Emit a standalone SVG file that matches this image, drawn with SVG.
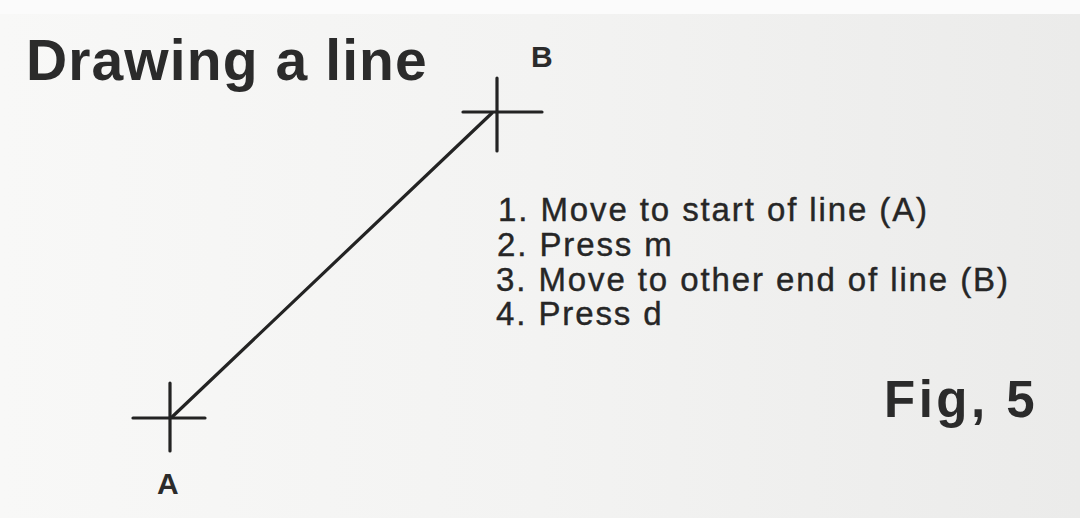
<svg xmlns="http://www.w3.org/2000/svg" width="1080" height="518" viewBox="0 0 1080 518">
  <defs>
    <linearGradient id="paper" x1="0" y1="0" x2="1" y2="0">
      <stop offset="0" stop-color="#f8f8f7"/>
      <stop offset="0.5" stop-color="#f3f3f2"/>
      <stop offset="1" stop-color="#ebebea"/>
    </linearGradient>
    <style>
      .ink { stroke: #232323; stroke-width: 3.2; stroke-linecap: round; fill: none; }
      .head { font-family: "Liberation Sans", Arial, sans-serif; font-weight: bold; fill: #2b2b2b; }
      .step { font-family: "Liberation Sans", Arial, sans-serif; font-size: 33px; letter-spacing: 1.9px; fill: #262626; stroke: #262626; stroke-width: 0.4px; }
      .pt { font-family: "Liberation Sans", Arial, sans-serif; font-weight: bold; font-size: 30px; fill: #2b2b2b; }
    </style>
  </defs>

  <!-- page -->
  <rect x="0" y="0" width="1080" height="518" fill="url(#paper)"/>
  <rect x="0" y="0" width="1080" height="14" fill="#fbfbfb"/>

  <!-- title -->
  <g id="title">
    <text class="head" x="26" y="80" font-size="57" letter-spacing="1.1">Drawing a line</text>
  </g>

  <!-- connector: the line from A to B -->
  <g id="connectors">
    <line class="ink" x1="172" y1="417" x2="492" y2="113"/>
  </g>

  <!-- end point A -->
  <g id="point-a">
    <line class="ink" x1="170" y1="383" x2="170" y2="451"/>
    <line class="ink" x1="133" y1="418" x2="205" y2="418"/>
    <text class="pt" x="157" y="494">A</text>
  </g>

  <!-- end point B -->
  <g id="point-b">
    <line class="ink" x1="497" y1="78" x2="497" y2="151"/>
    <line class="ink" x1="463" y1="112" x2="542" y2="112"/>
    <text class="pt" x="531" y="67">B</text>
  </g>

  <!-- steps -->
  <g id="steps">
    <text class="step" x="498" y="221">1. Move to start of line (A)</text>
    <text class="step" x="497" y="256">2. Press m</text>
    <text class="step" x="496" y="291">3. Move to other end of line (B)</text>
    <text class="step" x="496" y="325">4. Press d</text>
  </g>

  <!-- figure number -->
  <g id="fig-label">
    <text class="head" x="884" y="417" font-size="51" letter-spacing="3.5">Fig, 5</text>
  </g>
</svg>
